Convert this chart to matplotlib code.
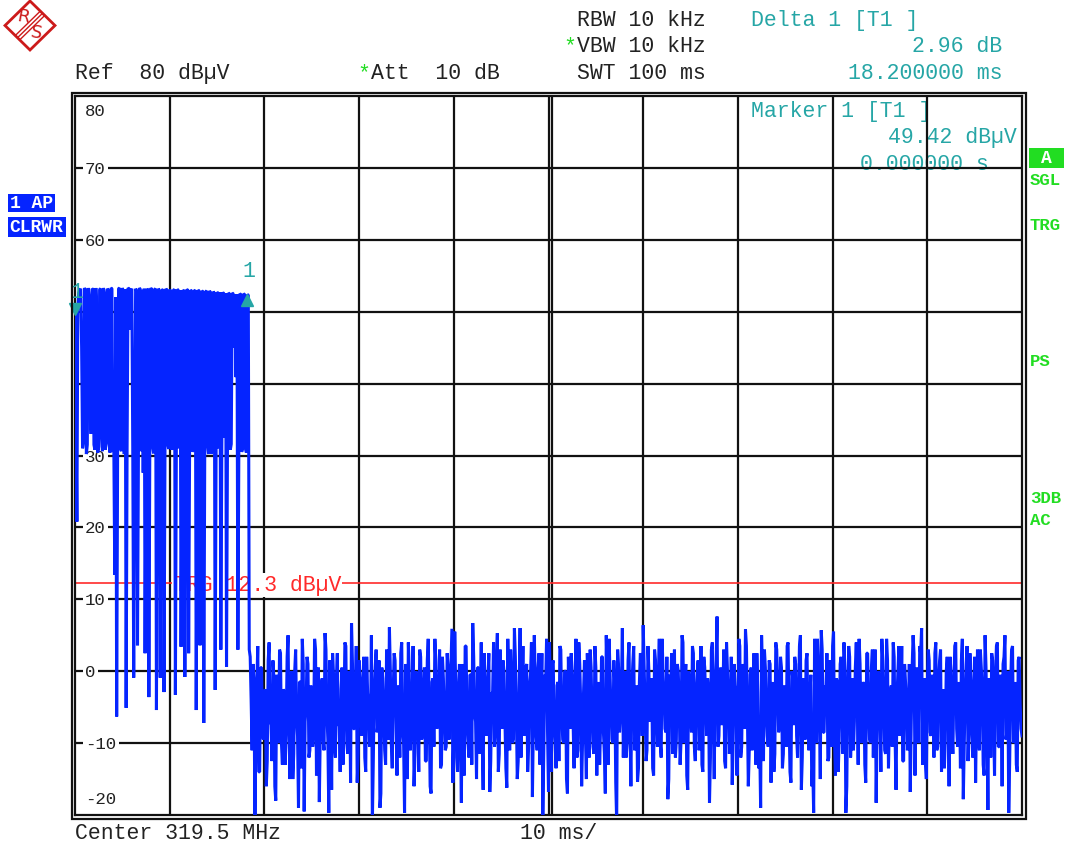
import numpy as np
import matplotlib
matplotlib.use('Agg')
import matplotlib.pyplot as plt
from matplotlib import transforms
from matplotlib.patches import Rectangle, Polygon

W, H = 1065, 848

# analyzer settings
sweep_ms = 100.0
ref_lvl = 80
n_div = 10
trg_lvl = 12.3

# trace samples on the even sweep points (every 0.2 ms): burst, then noise floor
burst = [
    49.42, 20.8, 52.6, 53.2, 31.0, 53.3, 30.2, 53.3, 36.5, 53.2,
    31.5, 53.3, 30.4, 53.1, 33.0, 53.3, 30.8, 53.2, 31.6, 53.3,
    30.5, 13.4, -6.3, 53.2, 31.0, 53.3, 30.2, -5.1, 53.3, 47.5,
    53.2, -0.9, 53.2, 3.6, 53.3, 30.6, 27.6, 2.5, 53.2, -3.6,
    53.3, 31.2, 53.1, -5.4, 53.2, -0.9, 53.0, -2.9, 53.2, 31.5,
    53.1, 30.8, 53.0, -3.3, 53.1, 31.0, 3.4, 53.0, -0.8, 53.1,
    2.5, 53.0, 30.5, 52.9, -5.4, 53.0, 3.6, 52.9, -7.2, 52.8,
    31.4, 52.9, 30.2, 52.8, -2.6, 52.7, 31.0, 3.0, 52.7, 32.5,
    0.6, 52.6, 30.8, 52.6, 45.0, 40.9, 3.0, 52.5, 30.5, 52.5,
    31.0, 52.38, 3.0,
]
noise = [
    -4.0, 1.0, -21.5, -2.0, -14.0, 0.5, -9.0, -3.0, -16.0, 1.5,
    -7.0, -12.5, -1.0, -18.0, -4.5, 3.0, -10.0, -2.5, -13.0, 2.0,
    -8.5, -3.0, -15.0, 0.0, -6.5, -19.0, -1.5, 4.5, -19.5, -5.0,
    1.0, -11.0, -3.5, -8.0, 3.0, -12.0, -18.2, -2.0, -9.5, 5.3,
    -6.0, -19.7, -4.0, 2.5, -10.5, -1.0, -7.5, -14.0, 0.5, -5.5,
    3.5, -11.5, -2.0, 6.7, -8.0, -3.5, -15.5, 1.5, -6.5, -1.0,
    -12.0, 2.0, -4.5, -9.0, -21.0, -2.5, 3.0, -7.0, -19.0, 0.5,
    -5.0, -13.0, -1.5, 6.1, -10.0, -3.0, 1.5, -14.5, -6.0, 2.5,
    -8.5, -19.7, -2.0, 4.0, -11.0, -4.0, -16.0, 0.0, -6.5, 3.0,
    -9.5, -2.5, -12.5, 1.5, -5.0, -17.0, -1.0, 4.5, -8.0, -3.5,
    -13.5, 2.0, -6.0, -10.5, 0.5, -4.5, 5.9, -9.0, -2.0, -14.0,
    1.0, -18.3, -3.0, 3.5, -7.5, -12.0, -0.5, 6.7, -6.0, -15.0,
    0.5, -4.0, -9.5, 2.5, -5.5, -1.0, -16.8, -3.0, 4.0, -8.0,
    5.3, -11.5, -2.0, 1.5, -7.0, -16.2, -1.5, 3.0, -10.0, 6.0,
    -5.0, -12.5, 6.0, -3.5, -9.0, 0.5, -14.0, -2.0, 4.0, -7.5,
    -1.0, -11.0, 2.5, -5.5, -20.0, -0.5, 4.5, -16.8, -3.0, 1.0,
    -8.0, -13.5, -1.5, 3.5, -6.0, -10.0, 0.0, -17.0, -3.5, 2.5,
    -7.0, -1.0, -12.0, 4.0, -4.5, -9.5, 1.5, -15.0, -2.5, 3.0,
    -6.5, -11.5, 0.5, -4.0, -13.0, 2.0, -8.5, -17.0, -1.0, 4.5,
    -5.5, -10.0, -2.0, -21.0, 0.5, -6.0, 6.0, -3.5, -12.0, 1.5,
    -7.5, -2.5, 3.5, -9.0, -15.4, -1.5, 2.0, 6.4, -5.0, -11.0,
    0.0, -4.0, -13.5, 3.0, -6.5, -1.0, -10.0, 4.5, -3.0, -8.5,
    -17.8, -0.5, 2.5, -7.0, -12.0, 1.0, -4.5, -9.5, 4.0, -2.0,
    -14.5, 0.0, -6.0, 3.5, -10.5, -3.0, 1.5, -8.0, -13.0, 2.0,
    -4.5, -1.0, -18.3, 3.0, -6.5, -2.0, 7.6, -9.0, 0.5, -5.0,
    -12.5, 4.0, -3.5, -8.0, -15.8, 1.0, -2.5, -7.0, 3.5, -10.5,
    -1.0, 5.8, -5.5, -11.0, 0.5, -3.0, -8.0, 2.5, -13.5, -19.0,
    -0.5, 3.0, -6.0, -10.5, 1.0, -4.0, -14.0, 4.0, -2.5, -7.5,
    0.5, -11.5, -3.0, 3.5, -6.5, -15.5, -1.0, 2.0, -9.0, -4.0,
    5.0, -12.0, -2.0, 1.5, -7.0, -3.5, -16.0, -19.7, 0.0, 4.5,
    -5.0, 5.7, -8.5, -2.0, 2.5, -12.0, -4.5, 3.5, -9.5, -1.0,
    -14.0, 1.0, -6.0, 4.0, -19.7, -2.5, 2.0, -7.5, -11.0, 0.5,
    -3.5, 4.5, -8.0, -1.5, -13.0, 2.5, -5.0, -10.0, 3.0, -2.5,
    -18.3, 0.0, -6.5, 4.5, -4.0, -11.5, 1.5, -7.0, -2.0, 4.0,
    -9.5, -3.5, 3.5, -6.0, -12.5, 1.0, -4.0, -8.5, -16.8, 0.5,
    2.5, -5.5, -1.5, 3.5, 6.0, -7.0, -12.8, -2.0, 1.5, -9.0,
    -4.0, 2.5, -11.0, -1.0, 3.0, -6.5, -13.5, 0.0, -3.5, 2.0,
    -8.0, -2.5, 4.0, -10.5, -5.0, 1.5, -17.8, -3.0, 3.5, -7.5,
    -1.5, -12.0, 2.0, -5.0, -9.0, 3.0, -2.5, -14.5, 0.5, -19.3,
    -4.0, 2.5, -7.0, -1.0, 4.0, -10.5, -3.0, 1.0, 5.0, -8.5,
    -19.7, -2.0, 3.5, -6.0, -13.0, 1.5, -4.5, -9.0,
]
# samples on the odd sweep points (in between the ones above)
burst_mid = [
    35.0, 50.5, 53.0, 45.0, 32.0, 53.0, 31.5, 52.0, 33.0, 53.1,
    30.8, 50.0, 31.2, 53.2, 30.6, 52.5, 32.0, 53.0, 30.4, 53.2,
    31.0, 52.0, 30.0, 53.3, 30.6, 52.8, 53.1, 31.0, 53.2, 53.0,
    31.0, 30.5, 52.9, 31.0, 53.1, 53.0, 53.2, 30.8, 53.0, 31.4,
    53.1, 30.3, 53.2, 32.0, 53.0, 31.0, 53.1, 30.6, 53.0, 30.9,
    52.8, 31.3, 53.1, 30.7, 53.0, 53.0, 30.9, 52.9, 31.2, 53.0,
    30.5, 52.9, 31.0, 53.0, 30.8, 52.9, 31.1, 52.8, 30.6, 52.9,
    30.2, 52.7, 31.5, 52.6, 30.9, 52.6, 52.7, 30.8, 52.5, 52.6,
    31.0, 52.5, 31.6, 52.5, 52.4, 52.4, 30.5, 52.4, 31.0, 52.4,
    30.4, 52.3,
]
noise_mid = [
    2.0, -11.0, -1.0, -8.5, 3.5, -14.0, 0.5, -9.5, -2.5, -12.5,
    4.0, -7.5, 1.5, -16.0, -0.5, -10.0, 2.5, -13.0, -3.0, -8.0,
    5.0, -15.0, 0.0, -11.5, 3.0, -9.0, -1.5, -13.5, 1.0, -7.0,
    2.0, -12.0, -2.0, -10.5, 4.5, -14.5, 0.5, -8.5, -1.0, -11.0,
    3.0, -9.5, 1.5, -16.5, -0.5, -12.0, 2.5, -7.5, -2.5, -13.0,
    4.0, -10.0, 0.0, -15.5, 1.0, -8.0, 3.5, -11.5, -1.5, -9.0,
    2.0, -14.0, -3.0, -10.5, 5.0, -12.5, 0.5, -8.5, 1.5, -17.0,
    -1.0, -11.0, 3.0, -9.5, 0.0, -13.5, 2.5, -7.0, -2.0, -12.0,
    4.0, -10.0, 1.0, -15.0, -0.5, -8.0, 3.5, -11.5, -2.5, -14.0,
    2.0, -9.0, 0.5, -12.5, 4.5, -16.0, -1.5, -10.5, 1.5, -7.5,
    3.0, -13.0, -1.0, -11.0, 2.5, -9.5, 0.0, -15.5, 5.5, -12.0,
    -2.0, -8.5, 1.0, -14.5, 3.5, -10.0, -0.5, -13.0, 2.0, -7.0,
    0.5, -11.5, 4.0, -16.5, -1.5, -9.0, 2.5, -12.5, -3.0, -10.5,
    1.5, -14.0, 3.0, -8.0, 0.0, -13.5, 4.5, -11.0, -1.0, -9.5,
    2.0, -15.0, -2.5, -12.0, 3.5, -7.5, 1.0, -10.5, -0.5, -17.5,
    5.0, -9.0, 0.5, -13.0, 2.5, -11.5, -1.5, -8.5, 4.0, -14.0,
    1.5, -10.0, -2.0, -12.5, 3.0, -9.5, 0.0, -15.0, 2.0, -8.0,
    -1.0, -13.5, 4.5, -11.0, 1.0, -16.0, -3.0, -9.0, 2.5, -12.0,
    0.5, -10.5, 3.5, -14.5, -1.5, -7.5, 2.0, -11.5, 5.0, -13.0,
    -0.5, -9.5, 1.5, -15.5, 3.0, -8.5, -2.5, -12.0, 0.0, -10.0,
    4.0, -16.0, 1.0, -11.0, -2.0, -13.5, 2.5, -9.0, 0.5, -12.5,
    3.5, -7.0, -1.0, -14.5, 1.5, -10.5, 4.5, -12.0, -0.5, -8.0,
    2.0, -15.0, -3.0, -11.5, 3.0, -9.5, 0.0, -13.0, 5.0, -10.0,
    1.0, -16.5, -1.5, -8.5, 2.5, -12.5, -0.5, -11.0, 3.5, -14.0,
    0.5, -9.0, -2.5, -12.0, 4.0, -15.0, 1.5, -10.5, -1.0, -7.5,
    3.0, -13.5, 0.0, -11.5, 2.0, -9.5, -2.0, -14.5, 4.5, -12.0,
    1.0, -8.0, 3.5, -16.0, -0.5, -11.0, 2.5, -13.0, -3.0, -10.0,
    5.0, -12.5, 0.5, -9.0, 1.5, -15.5, -1.5, -11.5, 3.0, -8.5,
    2.0, -13.5, -2.0, -10.5, 4.0, -14.0, 0.0, -7.5, 1.0, -12.0,
    3.5, -16.5, -1.0, -9.5, 2.5, -11.0, -0.5, -13.0, 4.5, -10.0,
    0.5, -15.0, 3.0, -8.5, -2.5, -12.5, 1.5, -10.5, 5.5, -14.5,
    -1.5, -9.0, 2.0, -11.5, 0.0, -16.0, 3.5, -12.0, -1.0, -7.0,
    4.0, -13.0, 1.0, -10.0, -2.0, -15.5, 2.5, -9.5, 0.5, -12.0,
    3.0, -8.0, -0.5, -14.0, 1.5, -11.0, 4.5, -13.5, -3.0, -10.5,
    2.0, -16.5, 0.0, -9.0, 3.5, -12.5, -1.5, -11.0, 1.0, -7.5,
    5.0, -14.5, 0.5, -10.0, 2.5, -13.0, -1.0, -15.0, 3.0, -8.5,
    -0.5, -12.0, 4.0, -10.5, 1.5, -14.0, -2.5, -9.5, 2.0, -16.0,
    0.0, -11.5, 3.5, -8.0, -1.5, -13.5, 4.5, -10.0, 1.0, -12.5,
    2.5, -9.0, -2.0, -15.5, 3.0, -11.0, 0.5, -13.0, 5.0, -7.5,
    -1.0, -12.0, 1.5, -14.5, 3.5, -10.5, -0.5, -16.0, 2.0, -9.5,
    0.0, -12.5, 3.0, -10.0, -1.5, -14.0, 2.0, -8.0,
]
n_pts = len(burst) + len(noise) + len(burst_mid) + len(noise_mid)
level = np.empty(n_pts)
level[0::2] = burst + noise
level[1::2] = burst_mid + noise_mid
t_ms = np.arange(n_pts) * sweep_ms / (n_pts - 1)

mk_t = [0.0, 18.2]
mk_lbl = ['1', '1']

hdr_left = ['Ref  80 dBµV', 'Att  10 dB']
hdr_mid = ['RBW 10 kHz', 'VBW 10 kHz', 'SWT 100 ms']
delta_txt = ['Delta 1 [T1 ]', '2.96 dB', '18.200000 ms']
marker_txt = ['Marker 1 [T1 ]', '49.42 dBµV', '0.000000 s']
side_txt = ['SGL', 'TRG', 'PS', '3DB', 'AC']

MONO = ['Nimbus Mono PS', 'Courier New', 'Liberation Mono', 'DejaVu Sans Mono']
plt.rcParams['font.family'] = MONO

BLUE = '#0524ff'
TEAL = '#26a6a6'
GREEN = '#22dd22'
RED = '#ff2a2a'
INK = '#222222'
LOGO = '#cc1a1a'
FS = 15.5

fig = plt.figure(figsize=(W / 100, H / 100), dpi=100)
ax = fig.add_axes([75 / W, 1 - 815 / H, (1022 - 75) / W, (815 - 96) / H])
ax.set_xlim(0, sweep_ms)
ax.set_ylim(ref_lvl - 100, ref_lvl)
ax.set_xticks([])
ax.set_yticks([])
for s in ax.spines.values():
    s.set_linewidth(1.6)
    s.set_color('#111111')


def ftext(x, y, s, **kw):
    kw.setdefault('zorder', 0.5)
    return ax.text(x / W, 1 - y / H, s, transform=fig.transFigure,
                   clip_on=False, **kw)


def fbox(x0, y0, x1, y1, color):
    ax.add_patch(Rectangle((x0 / W, 1 - y1 / H), (x1 - x0) / W, (y1 - y0) / H,
                           transform=fig.transFigure, fc=color, ec='none',
                           clip_on=False, zorder=4.8))


# grid
xdiv = sweep_ms / n_div
for k in range(1, n_div):
    ax.axvline(k * xdiv, color='#111111', lw=1.6, zorder=1)
ax.plot([sweep_ms / 2] * 2, [0, 1], color='#111111', lw=1.6, zorder=1,
        transform=transforms.offset_copy(ax.get_xaxis_transform(), fig=fig, x=3, units='dots'))
ylev = np.arange(ref_lvl - 100, ref_lvl + 1, 10)
for v in ylev[1:-1]:
    ax.axhline(v, color='#111111', lw=1.6, zorder=1)

# outer frame line
fig.add_artist(Rectangle((71.5 / W, 1 - 818.5 / H), (1025.5 - 71.5) / W, (818.5 - 93) / H,
                         transform=fig.transFigure, fill=False, lw=1.6, ec='#111111'))

# level labels
for v in ylev:
    dy, va = 0, 'center_baseline'
    if v == ylev[-1]:
        dy, va = -8, 'top'
    if v == ylev[0]:
        dy, va = 8, 'bottom'
    tr = transforms.offset_copy(ax.get_yaxis_transform(), fig=fig, x=10, y=dy, units='dots')
    ax.text(0, v, f'{v}', transform=tr, ha='left', va=va, fontsize=12.5, color=INK,
            bbox=dict(fc='white', ec='none', pad=1.8), zorder=2)

# trigger level
ax.axhline(trg_lvl, color=RED, lw=1.2, zorder=2)
tr = transforms.offset_copy(ax.transData, fig=fig, x=4, units='dots')
ax.text(xdiv, trg_lvl, f'TRG {trg_lvl} dBµV', transform=tr, ha='left', va='center_baseline',
        fontsize=FS, color=RED, bbox=dict(fc='white', ec='none', pad=1.0), zorder=2.5)

# trace
ax.plot(t_ms, level, color=BLUE, lw=2.2, zorder=3, solid_joinstyle='bevel')

# markers
dt = sweep_ms / (n_pts - 1)
idx = [int(round(t / dt)) for t in mk_t]
m_up = transforms.offset_copy(ax.transData, fig=fig, y=7, units='dots')
m_dn = transforms.offset_copy(ax.transData, fig=fig, y=-5, units='dots')
ax.plot(mk_t[0], level[idx[0]], marker='v', ms=9, color=TEAL, transform=m_up,
        clip_on=False, zorder=4)
ax.plot(mk_t[1], level[idx[1]], marker='^', ms=9, color=TEAL, transform=m_dn,
        clip_on=False, zorder=4)
for t, i, lb in zip(mk_t, idx, mk_lbl):
    tr = transforms.offset_copy(ax.transData, fig=fig, x=2, y=23, units='dots')
    ax.text(t, level[i], lb, transform=tr, ha='center', va='center', fontsize=FS,
            color=TEAL, zorder=4)

# header
ftext(75, 79, hdr_left[0], fontsize=FS, color=INK, va='baseline', zorder=5)
ftext(357, 79, '*', fontsize=FS, color=GREEN, va='baseline', zorder=5)
ftext(371, 79, hdr_left[1], fontsize=FS, color=INK, va='baseline', zorder=5)
for k, s in enumerate(hdr_mid):
    ftext(577, 26 + 26.5 * k, s, fontsize=FS, color=INK, va='baseline', zorder=5)
ftext(563, 52, '*', fontsize=FS, color=GREEN, va='baseline', zorder=5)
ftext(751, 26, delta_txt[0], fontsize=FS, color=TEAL, va='baseline', zorder=5)
ftext(1002, 52, delta_txt[1], fontsize=FS, color=TEAL, va='baseline', ha='right', zorder=5)
ftext(1002, 79, delta_txt[2], fontsize=FS, color=TEAL, va='baseline', ha='right', zorder=5)

ftext(751, 117, marker_txt[0], fontsize=FS, color=TEAL, va='baseline')
ftext(1017, 143, marker_txt[1], fontsize=FS, color=TEAL, va='baseline', ha='right')
ftext(989, 170, marker_txt[2], fontsize=FS, color=TEAL, va='baseline', ha='right')

ftext(75, 839, 'Center 319.5 MHz', fontsize=FS, color=INK, va='baseline', zorder=5)
ftext(520, 839, f'{xdiv:g} ms/', fontsize=FS, color=INK, va='baseline', zorder=5)

# trace info boxes on the left
fbox(8, 194, 55, 212, BLUE)
fbox(8, 217, 66, 237, BLUE)
ftext(10, 208, '1 AP', fontsize=13, color='white', weight='bold', va='baseline', zorder=5)
ftext(9, 232, 'CLRWR', fontsize=13, color='white', weight='bold', va='baseline', zorder=5)

# status on the right
fbox(1029, 148, 1064, 168, GREEN)
ftext(1046, 163, 'A', fontsize=13, color='white', weight='bold', va='baseline', ha='center', zorder=5)
for s, y in zip(side_txt, [185, 230, 366, 503, 525]):
    ftext(1030, y, s, fontsize=12.5, color=GREEN, weight='bold', va='baseline', zorder=5)

# logo
lax = fig.add_axes([0, 1 - 52 / H, 60 / W, 52 / H])
lax.set_xlim(0, 60)
lax.set_ylim(52, 0)
lax.axis('off')
lax.add_patch(Polygon([(30, 1), (55, 25.5), (30, 50), (5, 25.5)], closed=True, fill=False,
                      ec=LOGO, lw=2.0))
for o in (-2.2, 0, 2.2):
    lax.plot([17.5 + o, 42.5 + o], [37.7 + o, 13.3 + o], color=LOGO, lw=1.0)
lax.text(23, 17, 'R', fontsize=13, color=LOGO, ha='center', va='center',
         family='DejaVu Sans', rotation=-10)
lax.text(36, 33, 'S', fontsize=13, color=LOGO, ha='center', va='center',
         family='DejaVu Sans', rotation=-10)

fig.savefig('out.png', dpi=100)
